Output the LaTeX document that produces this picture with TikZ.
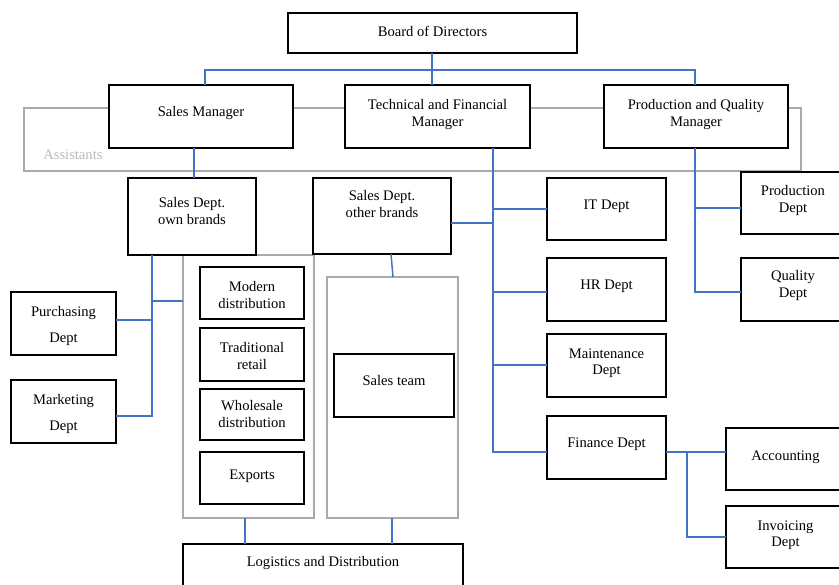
\documentclass[tikz,border=0pt]{standalone}
\usepackage{fontspec}
\setmainfont{Liberation Serif}
\usetikzlibrary{calc}
\definecolor{lnblue}{RGB}{68,114,196}
\definecolor{frgray}{RGB}{170,170,170}
\definecolor{txgray}{RGB}{185,185,185}
\newcommand{\bxt}[4]{\parbox[c][#2pt][t]{#1pt}{\centering\rule{0pt}{#3pt}#4}}
\begin{document}
\begin{tikzpicture}[x=1pt,y=-1pt,
  box/.style={draw=black, line width=2.4pt, fill=white, inner sep=0pt, outer sep=0pt, anchor=north west, font=\fontsize{14.6}{16.5}\selectfont},
  grp/.style={draw=frgray, line width=2pt, inner sep=0pt, outer sep=0pt, anchor=north west, font=\fontsize{14.6}{16.5}\selectfont},
  link/.style={draw=lnblue, line width=1.5pt}]
\useasboundingbox (0,0) rectangle (839,585);
\clip (0,0) rectangle (839,585);

% gray frames
\node[grp] (asst) at (24,108) {\parbox[c][63pt][t]{777pt}{\rule{0pt}{51.3pt}\hspace*{19.3pt}\textcolor{txgray}{Assistants}}};
\node[grp, minimum width=131pt, minimum height=263pt] (grp1) at (183,255) {};
\node[grp, minimum width=131pt, minimum height=241pt] (grp2) at (327,277) {};

% boxes
\node[box] (board) at (288,13) {\bxt{289}{40}{24}{Board of Directors}};
\node[box] (sm) at (109,85) {\bxt{184}{63}{32}{Sales Manager}};
\node[box] (tfm) at (345,85) {\bxt{185}{63}{25}{Technical and Financial\\Manager}};
\node[box] (pqm) at (604,85) {\bxt{184}{63}{25}{Production and Quality\\Manager}};
\node[box] (sdo) at (128,178) {\bxt{128}{77}{30}{Sales Dept.\\own brands}};
\node[box] (sdob) at (313,178) {\bxt{138}{76}{23}{Sales Dept.\\other brands}};
\node[box] (pur) at (11,292) {\bxt{105}{63}{24.7}{Purchasing\\[9.5pt]Dept}};
\node[box] (mkt) at (11,380) {\bxt{105}{63}{25}{Marketing\\[9.5pt]Dept}};
\node[box] (modern) at (200,267) {\bxt{104}{52}{24.7}{Modern\\distribution}};
\node[box] (trad) at (200,328) {\bxt{104}{53}{24.7}{Traditional\\retail}};
\node[box] (whole) at (200,389) {\bxt{104}{51}{21.7}{Wholesale\\distribution}};
\node[box] (exp) at (200,452) {\bxt{104}{52}{27.3}{Exports}};
\node[box] (team) at (334,354) {\bxt{120}{63}{32}{Sales team}};
\node[box] (log) at (183,544) {\bxt{280}{63}{22.7}{Logistics and Distribution}};
\node[box] (it) at (547,178) {\bxt{119}{62}{31.3}{IT Dept}};
\node[box] (hr) at (547,258) {\bxt{119}{63}{32}{HR Dept}};
\node[box] (mnt) at (547,334) {\bxt{119}{63}{24.3}{Maintenance\\Dept}};
\node[box] (fin) at (547,416) {\bxt{119}{63}{32}{Finance Dept}};
\node[box] (prod) at (741,172) {\bxt{104}{62}{24}{Production\\Dept}};
\node[box] (qual) at (741,258) {\bxt{104}{63}{23}{Quality\\Dept}};
\node[box] (acc) at (726,428) {\bxt{119}{62}{33}{Accounting}};
\node[box] (inv) at (726,506) {\bxt{119}{62}{24}{Invoicing\\Dept}};

% top level
\coordinate (bus) at (432,70);
\coordinate (bs) at ([xshift=-0.5pt]board.south);
\draw[link] (bs) -- (bs |- tfm.north);
\draw[link] ([xshift=4pt]sm.north) |- (bus) -| ([xshift=-1pt]pqm.north);
\draw[link] ([xshift=2pt]sdo.north) -- ([xshift=2pt]sdo.north |- sm.south);

% own brands
\coordinate (ob) at ($(sdo.south west)+(24,0)$);
\coordinate (j301) at (152,301);
\draw[link] (ob) |- ([yshift=-4.5pt]mkt.east);
\draw[link] ([yshift=3.5pt]pur.east) -| (ob);
\draw[link] (j301) -- (j301 -| grp1.west);

% other brands and logistics
\draw[link] ([xshift=9pt]sdob.south) -- ([xshift=0.5pt]grp2.north);
\draw[link] ([xshift=-3.5pt]grp1.south) -- ([xshift=-3.5pt]grp1.south |- log.north);
\draw[link] ([xshift=-0.5pt]grp2.south) -- ([xshift=-0.5pt]grp2.south |- log.north);

% technical and financial
\coordinate (tf) at ([xshift=55.5pt]tfm.south);
\coordinate (hrw) at ([yshift=-2.5pt]hr.west);
\coordinate (mw) at ([yshift=0.5pt]mnt.west);
\coordinate (sdobe) at ([yshift=-7pt]sdob.east);
\draw[link] (tf) |- ([yshift=-4.5pt]fin.west);
\draw[link] (it.west) -- (it.west -| tf);
\draw[link] (hrw) -- (hrw -| tf);
\draw[link] (mw) -- (mw -| tf);
\draw[link] (sdobe) -- (sdobe -| tf);

% production and quality
\coordinate (pq) at ([xshift=-1pt]pqm.south);
\coordinate (qw) at ([yshift=-2.5pt]qual.west);
\coordinate (pw) at ([yshift=-5pt]prod.west);
\draw[link] (pq) |- (qw);
\draw[link] (pw) -- (pw -| pq);

% finance
\coordinate (fe) at ([yshift=-4.5pt]fin.east);
\coordinate (fj) at ($(fe)+(21,0)$);
\draw[link] (fe) -- (fe -| acc.west);
\draw[link] (fj) |- (inv.west);
\end{tikzpicture}
\end{document}
